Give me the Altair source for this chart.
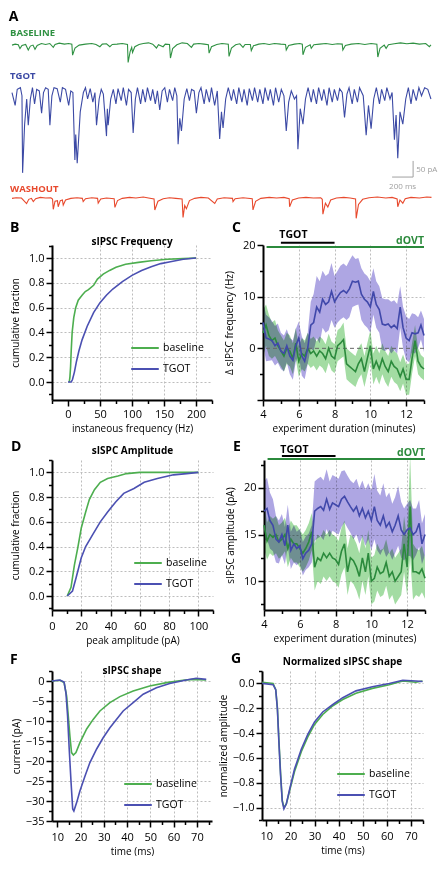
import altair as alt
import pandas as pd

FONT = "Open Sans"
GREEN_TR, BLUE_TR, RED_TR = "#2f9142", "#3c4aa5", "#e8492d"
GREEN, BLUE = "#4dae4f", "#4b50b2"
GREEN_DK, BLUE_DK = "#2b8a3c", "#4048aa"
GREEN_BAND, BLUE_BAND = "#7fcf7f", "#8e84d8"

# ---------------- Panel A: example traces (time ms, current pA) ----------------
baseline_trace = [
    (0, -5), (30, -2), (60, -4), (76, -16), (95, -6), (130, -3), (155, -20), (175, -8), (200, -5), (219, -18),
    (240, -6), (280, 0), (320, -3), (360, 0), (393, -12), (410, -3), (450, 1), (500, -2), (540, 0), (570, -2),
    (577, -36), (600, -14), (640, -5), (700, -2), (760, 0), (800, -3), (837, -10), (860, -2), (900, -1), (932, -10),
    (955, -3), (1000, -2), (1050, 0), (1100, -3), (1106, -59), (1125, -25), (1140, -12), (1148, -28), (1170, -10),
    (1210, -3), (1250, 0), (1300, 2), (1340, -2), (1376, -14), (1395, -4), (1439, -10), (1460, -2), (1500, -3),
    (1509, -45), (1530, -16), (1570, -4), (1620, 2), (1670, 0), (1709, -12), (1730, -2), (1780, 0), (1830, -2),
    (1870, -4), (1877, -30), (1900, -10), (1950, -3), (2000, 0), (2060, -2), (2067, -40), (2090, -14), (2130, -4),
    (2170, -1), (2200, -12), (2220, -3), (2270, -3), (2279, -22), (2300, -7), (2350, -2), (2400, 0), (2450, -3),
    (2500, 0), (2560, -2), (2605, -3), (2612, -20), (2635, -6), (2690, -2), (2740, 0), (2765, -2), (2771, -35),
    (2795, -12), (2840, -4), (2850, -15), (2875, -4), (2930, -2), (2990, 0), (3050, -3), (3100, -1), (3145, -2),
    (3151, -20), (3175, -6), (3230, -2), (3300, 0), (3360, -3), (3420, 0), (3475, -2), (3484, -42), (3505, -15),
    (3545, -5), (3563, -15), (3585, -4), (3640, -1), (3700, 2), (3760, -1), (3820, 1), (3880, -2), (3940, 0),
    (3975, -10), (3990, -4)]

tgot_trace = [
    (0, -20), (30, -60), (50, -10), (80, -5), (95, -30), (101, -269), (120, -120), (140, -40), (155, -121),
    (175, -40), (195, -5), (215, -55), (235, -10), (260, -15), (282, -84), (300, -20), (320, -5), (345, -10),
    (361, -121), (380, -30), (400, -5), (430, -8), (460, -50), (480, -5), (510, -10), (540, -60), (560, -15),
    (580, -20), (599, -229), (607, -150), (621, -239), (650, -80), (680, -20), (700, -5), (720, -40), (745, -8),
    (770, -50), (790, -20), (805, -121), (830, -40), (850, -10), (870, -25), (900, -155), (908, -70), (916, -121),
    (940, -40), (965, -10), (990, -55), (1010, -8), (1040, -45), (1060, -5), (1090, -60), (1110, -10), (1135, -20),
    (1154, -145), (1175, -40), (1195, -5), (1225, -55), (1245, -10), (1270, -50), (1290, -5), (1320, -45),
    (1340, -10), (1365, -55), (1385, -15), (1407, -74), (1430, -15), (1455, -5), (1480, -50), (1500, -10),
    (1530, -45), (1550, -5), (1570, -30), (1582, -180), (1598, -100), (1614, -139), (1640, -40), (1665, -8),
    (1690, -45), (1710, -10), (1735, -15), (1756, -84), (1780, -20), (1800, -5), (1830, -55), (1850, -10),
    (1880, -50), (1900, -5), (1930, -60), (1955, -15), (1978, -164), (1995, -80), (2010, -130), (2035, -40),
    (2060, -5), (2090, -45), (2110, -10), (2140, -55), (2160, -5), (2190, -50), (2210, -10), (2240, -60),
    (2260, -8), (2290, -45), (2310, -5), (2340, -50), (2360, -10), (2390, -55), (2410, -5), (2440, -45),
    (2460, -10), (2490, -60), (2510, -5), (2540, -50), (2565, -10), (2590, -30), (2612, -139), (2635, -50),
    (2660, -15), (2690, -40), (2710, -30), (2723, -196), (2745, -70), (2771, -118), (2795, -40), (2820, -5),
    (2850, -50), (2870, -10), (2900, -55), (2920, -5), (2950, -45), (2970, -10), (3000, -60), (3020, -5),
    (3050, -50), (3070, -10), (3100, -45), (3120, -8), (3145, -20), (3167, -97), (3190, -25), (3210, -5),
    (3240, -55), (3260, -10), (3290, -50), (3310, -5), (3345, -30), (3373, -152), (3395, -60), (3420, -132),
    (3445, -40), (3470, -5), (3500, -55), (3520, -10), (3550, -45), (3570, -5), (3600, -40), (3620, -20),
    (3642, -166), (3658, -90), (3674, -224), (3695, -80), (3722, -118), (3750, -40), (3775, -5), (3800, -55),
    (3820, -10), (3850, -45), (3875, -5), (3900, -30), (3930, -5), (3960, -10), (3990, -40)]

washout_trace = [
    (0, -3), (40, -1), (90, -2), (139, -19), (160, -6), (185, -3), (203, -13), (225, -4), (270, 0), (320, -2),
    (370, -1), (386, -5), (393, -37), (410, -12), (433, -10), (440, -29), (460, -10), (480, -8), (488, -24),
    (510, -8), (560, -3), (620, -1), (670, -3), (678, -13), (700, -4), (760, -1), (815, -3), (821, -18), (845, -5),
    (900, -2), (973, -4), (980, -31), (1005, -10), (1050, -3), (1120, 0), (1180, -2), (1250, 1), (1300, -2),
    (1353, -5), (1360, -39), (1390, -12), (1440, -4), (1500, -1), (1560, -3), (1620, -5), (1629, -62), (1645, -25),
    (1661, -35), (1690, -10), (1740, -3), (1800, 0), (1870, -2), (1931, -19), (1955, -5), (2020, -1), (2100, -3),
    (2105, -13), (2125, -4), (2200, -1), (2288, -4), (2295, -39), (2320, -12), (2370, -3), (2450, 0), (2520, -2),
    (2590, 0), (2640, -4), (2644, -29), (2670, -8), (2730, -2), (2800, 0), (2870, -2), (2940, -1), (2955, -6),
    (2961, -52), (2985, -18), (3008, -30), (3035, -8), (3090, -2), (3160, 0), (3220, -2), (3272, -5), (3278, -65),
    (3300, -22), (3340, -6), (3400, -1), (3480, 1), (3560, -2), (3620, 0), (3668, -5), (3674, -29), (3695, -8),
    (3722, -18), (3745, -4), (3800, 0), (3880, -2), (3950, 1), (3995, 0)]

scalebar_ms = [3620, 3820]
scalebar_pA = [-450, -500]

# ---------------- Panel B: cumulative instantaneous frequency ----------------
freq_base_x = [2, 3, 4, 5, 6.5, 9, 12, 16, 22, 27, 32, 40, 46, 55, 65, 75, 90, 110, 130, 155, 180, 200]
freq_base_y = [0.0, 0.04, 0.12, 0.25, 0.40, 0.52, 0.60, 0.66, 0.70, 0.73, 0.745, 0.78, 0.83, 0.87, 0.90,
               0.925, 0.95, 0.965, 0.978, 0.99, 0.995, 1.0]
freq_tgot_x = [0, 5, 7, 10, 13, 17, 22, 30, 40, 50, 60, 70, 85, 100, 115, 130, 145, 160, 180, 200]
freq_tgot_y = [0, 0, 0.02, 0.08, 0.16, 0.25, 0.34, 0.45, 0.56, 0.64, 0.70, 0.75, 0.81, 0.86, 0.90, 0.93,
               0.955, 0.97, 0.99, 1.0]

# ---------------- Panel D: cumulative peak amplitude ----------------
amp_base_x = [10.4, 13, 15.3, 17.6, 20, 23, 25.5, 29, 33, 38, 45, 51, 60, 80, 100]
amp_base_y = [0, 0.07, 0.25, 0.39, 0.55, 0.68, 0.78, 0.86, 0.92, 0.95, 0.97, 0.99, 1.0, 1.0, 1.0]
amp_tgot_x = [10.4, 14, 16.5, 20, 23, 28, 33, 38, 43.5, 49, 56, 63, 72, 83, 92, 100]
amp_tgot_y = [0, 0.04, 0.15, 0.31, 0.40, 0.50, 0.60, 0.68, 0.76, 0.83, 0.87, 0.92, 0.95, 0.98, 0.99, 1.0]

# ---------------- Panels C and E: time course (minutes) ----------------
minutes = [4.00, 4.17, 4.33, 4.50, 4.67, 4.83, 5.00, 5.17, 5.33, 5.50, 5.67, 5.83, 6.00, 6.17, 6.33, 6.50,
           6.67, 6.83, 7.00, 7.17, 7.33, 7.50, 7.67, 7.83, 8.00, 8.17, 8.33, 8.50, 8.67, 8.83, 9.00, 9.17,
           9.33, 9.50, 9.67, 9.83, 10.00, 10.17, 10.33, 10.50, 10.67, 10.83, 11.00, 11.17, 11.33, 11.50,
           11.67, 11.83, 12.00, 12.17, 12.33, 12.50, 12.67, 12.83, 13.00]
freq_tgot_mean = [5, 2, 1.8, 1.5, 0.5, 1, -0.5, -1, 0.5, -1.5, -2.3, 0.5, 2, -1.5, -2.5, 0, 4.5, 5, 8, 7,
                  9.5, 8.5, 9, 11, 9, 10, 10.8, 11.2, 10.7, 11.5, 13, 12.8, 13, 10.5, 9.5, 9, 8, 11, 8.5,
                  7.5, 4.7, 4.5, 4.7, 4, 4.5, 3.8, 8, 4, 2, 1.5, 3, 2.8, 3, 4.5, 2.5]
freq_tgot_sem = [4, 4.5, 4.2, 3.8, 3.8, 3.8, 3.5, 3.5, 3.2, 3.5, 3.8, 3.2, 3.2, 3.8, 3.5, 3, 4.5, 5.5, 6, 6,
                 5.5, 5.5, 5.5, 5.5, 5, 5, 5.2, 5.2, 5.2, 5.5, 5, 4.5, 4.5, 5, 5, 5, 5, 4.5, 4.5, 4.5,
                 5, 5, 4.8, 5, 4.8, 4.8, 4, 4, 4.2, 4.2, 3.8, 3.8, 3, 2.8, 3.2]
freq_dovt_mean = [3, 4.5, 2.5, 1.5, 2, 0.5, -0.5, -1.5, 0, -0.5, -2, 1, -2.5, -1, -1.5, 0, -1, -0.5, -1.5,
                  -0.5, -1, -2, 0, -1.5, -2, 0.5, 1, 1.7, -3, -3.5, -4, -4.5, -3, -2, -4.5, -2, 0.5, -4,
                  -2.5, -4, -2, -3.5, -4.5, -2.5, -3.5, -4, -5.5, -4, -6, -6, -2, 1.5, -2.5, -3.5, -4]
freq_dovt_sem = [4.5, 4, 4, 3.5, 3.5, 3, 3, 3, 3, 3, 3, 3, 3, 3, 3, 3, 2.8, 2.8, 2.8, 2.8, 2.8, 2.8, 2.8,
                 2.8, 2.8, 3, 3, 3.3, 3, 3, 3, 3, 3, 3, 3, 3, 3, 3, 3, 3, 3, 3, 3, 3, 3, 3, 2.8, 2.8,
                 3, 3, 3, 3, 2.5, 2.2, 2.2]
amp_tgot_mean = [17.5, 17.8, 16.5, 16, 14.5, 14.2, 15, 13.8, 16, 13.3, 14, 13.5, 13.8, 12.4, 13, 13.3, 14,
                 17.5, 17.8, 18, 17.6, 18.8, 17.7, 18.4, 18.2, 18, 18.8, 19.1, 18.5, 18, 17.5, 18, 17,
                 17.8, 16.8, 17.5, 16.5, 18, 16.5, 16, 17, 15.8, 16.3, 15.3, 16, 17, 15.5, 15, 15.5, 15.7,
                 15, 15.3, 16.2, 14, 15]
amp_tgot_sem = [3.2, 3.3, 3, 2.8, 2.5, 2.3, 2.2, 2, 2.2, 2, 2, 1.8, 1.8, 1.8, 1.8, 1.8, 2, 3.2, 3.2, 3.2,
                3.2, 3.2, 3, 3, 3, 3, 3, 2.8, 2.8, 2.8, 3, 3, 3, 3, 3, 3, 3.2, 3.5, 3.2, 3.2, 3.5, 3.2,
                3.2, 3, 3, 3.2, 3, 2.8, 2.8, 3, 2.8, 2.5, 2.5, 2.2, 2.2]
amp_dovt_mean = [16, 14.3, 15, 14.7, 15, 14.2, 14.5, 15, 13.5, 14.5, 14, 14, 13.5, 13, 13.5, 14.2, 15.3,
                 11.5, 12.5, 12.2, 13, 12.5, 13, 12.5, 12.3, 11.8, 13.2, 14, 11, 12.5, 12.2, 11.5, 10.5,
                 12.5, 11, 13, 10, 10.3, 11.5, 10.8, 11, 12, 10.5, 11, 10, 10.5, 11, 14, 11.5, 18, 11,
                 11, 10.8, 11.3, 10.3]
amp_dovt_sem = [2.5, 2, 2, 2, 2, 1.8, 1.8, 1.8, 2, 2, 2, 2, 2, 2, 2, 2, 2, 2.5, 2.5, 2.5, 2.5, 2.5, 2.5,
                2.5, 2.5, 2.5, 2.5, 2.5, 2.5, 2.5, 2.5, 2.5, 2.5, 2.5, 2.5, 2.5, 2.5, 2.5, 2.5, 2.5, 2.5,
                2.5, 2.5, 2.5, 2.5, 2.5, 2.5, 3, 3, 5.5, 3, 2.5, 2.5, 2.5, 2.2]
tgot_period = [5, 8]
dovt_period = [4.2, 13]

# ---------------- Panels F and G: average sIPSC shape ----------------
shape_base_t = [7.6, 11.1, 12.9, 14.0, 14.7, 15.4, 16.1, 16.9, 18.0, 19.7, 22.6, 25.4, 28.3, 32.6, 36.9,
                42.6, 49.7, 57.0, 64.0, 68.3, 74.0]
shape_base_pA = [0, 0.2, -0.4, -3.75, -8.75, -13.75, -17.9, -18.5, -17.9, -15.4, -12.0, -9.6, -7.5, -5.4,
                 -3.9, -2.5, -1.25, -0.4, 0.2, 0.4, 0.25]
shape_tgot_t = [7.6, 11.1, 12.9, 13.7, 14.4, 15.1, 15.9, 16.6, 17.1, 18.3, 19.7, 21.9, 24.0, 26.9, 29.7,
                32.6, 35.4, 38.3, 42.6, 46.9, 52.6, 58.3, 65.4, 69.7, 74.0]
shape_tgot_pA = [0, 0.25, -0.25, -3, -8.75, -17, -25.4, -32, -32.5, -30.4, -27.5, -23.75, -20.4, -17,
                 -14.2, -11.7, -9.6, -7.5, -5.4, -3.3, -1.7, -0.6, 0.25, 0.7, 0.4]
norm_t = [8.3, 12.8, 13.9, 14.6, 15.2, 15.9, 16.6, 17.3, 18.3, 19.7, 21.7, 24.5, 27.2, 30.0, 33.4, 37.6,
          41.7, 47.2, 54.0, 61.0, 66.6, 72.0, 74.8]
norm_base = [0.01, 0.0, -0.05, -0.2, -0.45, -0.72, -0.94, -1.0, -0.97, -0.86, -0.71, -0.55, -0.43, -0.33,
             -0.25, -0.18, -0.13, -0.08, -0.04, -0.01, 0.02, 0.01, 0.02]
norm_tgot = [0.0, -0.01, -0.05, -0.21, -0.47, -0.74, -0.95, -1.01, -0.97, -0.85, -0.69, -0.53, -0.41, -0.31,
             -0.23, -0.17, -0.115, -0.06, -0.027, 0.0, 0.025, 0.02, 0.015]

one = pd.DataFrame({"k": [0]})
cscale = alt.Scale(domain=["baseline", "TGOT"], range=[GREEN, BLUE])


def axis(title, values, fmt, label_test, major_test, grid_test, title_pad, label_pad=2):
    return alt.Axis(
        title=title, values=values, format=fmt,
        labelExpr=f"({label_test}) ? datum.label : ''",
        labelOverlap=False, labelFlush=False,
        tickSize={"condition": {"test": major_test, "value": 6}, "value": 3.5},
        tickWidth=1.5, tickColor="black",
        grid=True, gridColor="#bdbdbd", gridDash=[2, 2], gridWidth=1,
        gridOpacity={"condition": {"test": grid_test, "value": 1}, "value": 0},
        domainColor="black", domainWidth=2,
        labelFont=FONT, labelFontSize=11, labelColor="black", labelPadding=label_pad,
        titleFont=FONT, titleFontSize=10, titleFontWeight="normal", titleColor="black",
        titlePadding=title_pad)


def letter(ch, dx, dy):
    return alt.Chart(one).mark_text(text=ch, align="left", baseline="middle", fontSize=14,
                                    fontWeight="bold", font=FONT, color="black").encode(
        x=alt.value(dx), y=alt.value(dy))


def ptitle(txt, w, dy):
    return alt.Chart(one).mark_text(text=txt, align="center", baseline="middle", fontSize=10,
                                    fontWeight="bold", font=FONT, color="black").encode(
        x=alt.value(w / 2), y=alt.value(dy))


def leg(x, y):
    return alt.Legend(orient="none", legendX=x, legendY=y, title=None, symbolType="stroke",
                      symbolSize=760, symbolStrokeWidth=2, labelFont=FONT, labelFontSize=10.5,
                      labelColor="black", rowPadding=-3, labelOffset=3, padding=0)


def two_line_panel(xb, yb, xt, yt, xdom, ydom, xax, yax, w, h, let, ldx, ldy, ttl, tdy, lx, ly):
    df = pd.concat([pd.DataFrame({"x": xb, "y": yb, "cond": "baseline"}),
                    pd.DataFrame({"x": xt, "y": yt, "cond": "TGOT"})])
    X = alt.X("x:Q", scale=alt.Scale(domain=xdom, nice=False, zero=False), axis=xax)
    Y = alt.Y("y:Q", scale=alt.Scale(domain=ydom, nice=False, zero=False), axis=yax)
    lines = alt.Chart(df).mark_line(strokeWidth=1.6).encode(
        x=X, y=Y, color=alt.Color("cond:N", scale=cscale, legend=leg(lx, ly)))
    return alt.layer(lines, letter(let, ldx, ldy), ptitle(ttl, w, tdy)).properties(width=w, height=h)


def time_panel(mt, st, mb, sb, ydom, yax, w, h, let, ldx, ldy, y_tgot_txt, y_tgot_bar, y_dovt_bar, y_dovt_txt,
               zero_line):
    df = pd.DataFrame({"t": minutes, "mt": mt, "st": st, "mb": mb, "sb": sb})
    xs = alt.Scale(domain=[4, 13], nice=False, zero=False)
    ys = alt.Scale(domain=ydom, nice=False, zero=False)
    xax = axis("experiment duration (minutes)", [4, 5, 6, 7, 8, 9, 10, 11, 12, 13], "d",
               "datum.value % 2 == 0", "datum.value % 2 == 0", "datum.value % 2 == 0 && datum.value > 4", 4)
    X = lambda f: alt.X(f"{f}:Q", scale=xs, axis=xax)
    Y = lambda f: alt.Y(f"{f}:Q", scale=ys, axis=yax)
    base = alt.Chart(df).transform_calculate(
        tlo="datum.mt - datum.st", thi="datum.mt + datum.st",
        blo="datum.mb - datum.sb", bhi="datum.mb + datum.sb")
    band_t = base.mark_area(color=BLUE_BAND, opacity=0.72, blend="multiply").encode(
        x=X("t"), y=Y("tlo"), y2="thi:Q")
    band_b = base.mark_area(color=GREEN_BAND, opacity=0.72, blend="multiply").encode(
        x=X("t"), y=Y("blo"), y2="bhi:Q")
    line_b = base.mark_line(color=GREEN_DK, strokeWidth=1.6).encode(x=X("t"), y=Y("mb"))
    line_t = base.mark_line(color=BLUE_DK, strokeWidth=1.6).encode(x=X("t"), y=Y("mt"))
    bars = alt.Chart(pd.DataFrame({"x": [tgot_period[0], dovt_period[0]], "x2": [tgot_period[1], dovt_period[1]],
                                   "y": [y_tgot_bar, y_dovt_bar], "c": ["black", GREEN_DK]})).mark_rule(
        strokeWidth=2).encode(x=X("x"), x2="x2:Q", y=Y("y"), color=alt.Color("c:N", scale=None))
    t_tgot = alt.Chart(pd.DataFrame({"x": [(tgot_period[0] + 6.4) / 2], "y": [y_tgot_txt]})).mark_text(
        text="TGOT", fontWeight="bold", fontSize=10.5, font=FONT, color="black", baseline="middle").encode(
        x=X("x"), y=Y("y"))
    t_dovt = alt.Chart(pd.DataFrame({"x": [dovt_period[1]], "y": [y_dovt_txt]})).mark_text(
        text="dOVT", fontWeight="bold", fontSize=10.5, font=FONT, color=GREEN_DK, align="right",
        baseline="middle").encode(x=X("x"), y=Y("y"))
    layers = [band_t, band_b]
    if zero_line:
        layers.append(alt.Chart(pd.DataFrame({"z": [0]})).mark_rule(
            strokeDash=[4, 3], color="#666", strokeWidth=1).encode(y=Y("z")))
    layers += [line_b, line_t, bars, t_tgot, t_dovt, letter(let, ldx, ldy)]
    return alt.layer(*layers).properties(width=w, height=h)


# ---------------- Panel A chart ----------------
# Plot area of A is aligned with panel B's plot area; the traces extend to its left.
A_W, A_H = 380, 211
ax_s = alt.Scale(domain=[381, 4000], nice=False, zero=False)
ay_s = alt.Scale(domain=[-630, 24], nice=False, zero=False)


def trace(pairs, off, color):
    df = pd.DataFrame(pairs, columns=["t", "pA"])
    return alt.Chart(df).transform_calculate(y=f"datum.pA + ({off})").mark_line(
        color=color, strokeWidth=1.1).encode(
        x=alt.X("t:Q", scale=ax_s, axis=None), y=alt.Y("y:Q", scale=ay_s, axis=None))


lab = pd.DataFrame({"t": [-19, -19, -19], "y": [-53.6, -187, -537.6],
                    "txt": ["BASELINE", "TGOT", "WASHOUT"], "c": [GREEN_TR, BLUE_TR, RED_TR]})
labels = alt.Chart(lab).mark_text(align="left", baseline="middle", fontWeight="bold", fontSize=9.5,
                                  font=FONT).encode(
    x=alt.X("t:Q", scale=ax_s, axis=None), y=alt.Y("y:Q", scale=ay_s, axis=None),
    text="txt:N", color=alt.Color("c:N", scale=None))
sb = pd.DataFrame({"t": [scalebar_ms[0], scalebar_ms[1]], "t2": [scalebar_ms[1], scalebar_ms[1]],
                   "y": [scalebar_pA[1], scalebar_pA[0]], "y2": [scalebar_pA[1], scalebar_pA[1]]})
sbar = alt.Chart(sb).mark_rule(color="#a0a0a0", strokeWidth=1).encode(
    x=alt.X("t:Q", scale=ax_s, axis=None), x2="t2:Q", y=alt.Y("y:Q", scale=ay_s, axis=None), y2="y2:Q")
sbl = pd.DataFrame({"t": [scalebar_ms[1] + 30, (scalebar_ms[0] + scalebar_ms[1]) / 2],
                    "y": [-478.7, -531.4], "txt": ["50 pA", "200 ms"]})
sb_txt1 = alt.Chart(sbl.iloc[[0]]).mark_text(align="left", baseline="middle", fontSize=8, font=FONT,
                                              color="#a0a0a0").encode(
    x=alt.X("t:Q", scale=ax_s, axis=None), y=alt.Y("y:Q", scale=ay_s, axis=None), text="txt:N")
sb_txt2 = alt.Chart(sbl.iloc[[1]]).mark_text(align="center", baseline="middle", fontSize=8, font=FONT,
                                              color="#a0a0a0").encode(
    x=alt.X("t:Q", scale=ax_s, axis=None), y=alt.Y("y:Q", scale=ay_s, axis=None), text="txt:N")
a_letter = alt.Chart(pd.DataFrame({"t": [-30], "y": [18]})).mark_text(
    text="A", align="left", baseline="top", fontSize=14, fontWeight="bold", font=FONT, color="black").encode(
    x=alt.X("t:Q", scale=ax_s, axis=None), y=alt.Y("y:Q", scale=ay_s, axis=None))
panelA = alt.layer(trace(baseline_trace, -86, GREEN_TR), trace(tgot_trace, -218, BLUE_TR),
                   trace(washout_trace, -563, RED_TR), labels, sbar, sb_txt1, sb_txt2, a_letter).properties(
    width=A_W, height=A_H)

# ---------------- Panel B / D / F / G ----------------
cum_y_vals = [-0.1, 0.0, 0.1, 0.2, 0.3, 0.4, 0.5, 0.6, 0.7, 0.8, 0.9, 1.0, 1.1]
cum_lab = "datum.value >= -0.001 && datum.value <= 1.001 && abs(round(datum.value*10)) % 2 == 0"
cum_major = "abs(round(datum.value*10)) % 2 == 0"

panelB = two_line_panel(
    freq_base_x, freq_base_y, freq_tgot_x, freq_tgot_y, [-25, 225], [-0.145, 1.105],
    axis("instaneous frequency (Hz)", [-25, 0, 25, 50, 75, 100, 125, 150, 175, 200, 225], "d",
         "datum.value >= 0 && datum.value <= 200 && datum.value % 50 == 0",
         "datum.value >= 0 && datum.value <= 200 && datum.value % 50 == 0",
         "datum.value > 0 && datum.value <= 200 && datum.value % 50 == 0", 4, 2),
    axis("cumulative fraction", cum_y_vals, ".1f", cum_lab, cum_major, cum_lab, 8),
    160, 155, "B", -42, -17, "sIPSC Frequency", -3, 78, 88)

panelD = two_line_panel(
    amp_base_x, amp_base_y, amp_tgot_x, amp_tgot_y, [0, 110], [-0.113, 1.1],
    axis("peak amplitude (pA)", [0, 10, 20, 30, 40, 50, 60, 70, 80, 90, 100, 110], "d",
         "datum.value <= 100 && datum.value % 20 == 0", "datum.value <= 100 && datum.value % 20 == 0",
         "datum.value > 0 && datum.value <= 100 && datum.value % 20 == 0", 4, 4),
    axis("cumulative fraction", cum_y_vals, ".1f", cum_lab, cum_major, cum_lab, 8),
    161, 150, "D", -41, -13, "sISPC Amplitude", -9, 81, 88)

shape_x_vals = [10, 15, 20, 25, 30, 35, 40, 45, 50, 55, 60, 65, 70, 75]
panelF = two_line_panel(
    shape_base_t, shape_base_pA, shape_tgot_t, shape_tgot_pA, [7.7, 76.5], [-35, 2.5],
    axis("time (ms)", shape_x_vals, "d", "datum.value % 10 == 0", "datum.value % 10 == 0",
         "datum.value % 10 == 0 && datum.value >= 20", 4, 4),
    axis("current (pA)", [-35, -32.5, -30, -27.5, -25, -22.5, -20, -17.5, -15, -12.5, -10, -7.5, -5, -2.5,
                          0, 2.5], "d",
         "datum.value % 5 == 0", "datum.value % 5 == 0", "datum.value % 5 == 0 && datum.value > -35", 4),
    160, 150, "F", -42, -11, "sIPSC shape", 0, 71, 98)

panelG = two_line_panel(
    norm_t, norm_base, norm_t, norm_tgot, [8.2, 75], [-1.1, 0.1],
    axis("time (ms)", shape_x_vals, "d", "datum.value % 10 == 0", "datum.value % 10 == 0",
         "datum.value % 10 == 0 && datum.value >= 20", 4, 4),
    axis("normalized amplitude", [-1.1, -1.0, -0.9, -0.8, -0.7, -0.6, -0.5, -0.4, -0.3, -0.2, -0.1, 0.0, 0.1],
         ".1f", "abs(round(datum.value*10)) % 2 == 0 && datum.value > -1.05 && datum.value < 0.05",
         "abs(round(datum.value*10)) % 2 == 0",
         "abs(round(datum.value*10)) % 2 == 0 && datum.value > -1.05 && datum.value < 0.05", 4),
    161, 149, "G", -31, -12, "Normalized sIPSC shape", -9, 74, 88)

# ---------------- Panel C / E ----------------
panelC = time_panel(
    freq_tgot_mean, freq_tgot_sem, freq_dovt_mean, freq_dovt_sem, [-10, 20],
    axis("Δ sIPSC frequency (Hz)", [-10, -5, 0, 5, 10, 15, 20], "d",
         "datum.value >= 0 && datum.value % 10 == 0", "datum.value % 10 == 0", "datum.value == 10", 8),
    161, 155, "C", -31, -17, 21.94, 20.45, 19.6, 20.8, True)

panelE = time_panel(
    amp_tgot_mean, amp_tgot_sem, amp_dovt_mean, amp_dovt_sem, [6.9, 23],
    axis("sIPSC amplitude (pA)", [7.5, 10, 12.5, 15, 17.5, 20, 22.5], "d",
         "datum.value % 5 == 0", "datum.value % 5 == 0", "datum.value % 5 == 0", 8),
    161, 150, "E", -31, -13, 24.07, 23.43, 23.1, 23.75, False)

row1 = alt.hconcat(panelB, panelC, spacing=11).resolve_scale(color="independent")
row2 = alt.hconcat(panelD, panelE, spacing=11).resolve_scale(color="independent")
row3 = alt.hconcat(panelF, panelG, spacing=6).resolve_scale(color="independent")
rows = alt.vconcat(row1, row2, row3, spacing=7).resolve_scale(color="independent")
chart = alt.vconcat(panelA, rows, spacing=0).resolve_scale(
    color="independent").properties(
    padding={"left": 0, "top": 0, "right": 0, "bottom": 0}, background="white"
).configure(font=FONT).configure_view(stroke=None)

chart.save("out.html", embed_options={"renderer": "svg", "actions": False})
